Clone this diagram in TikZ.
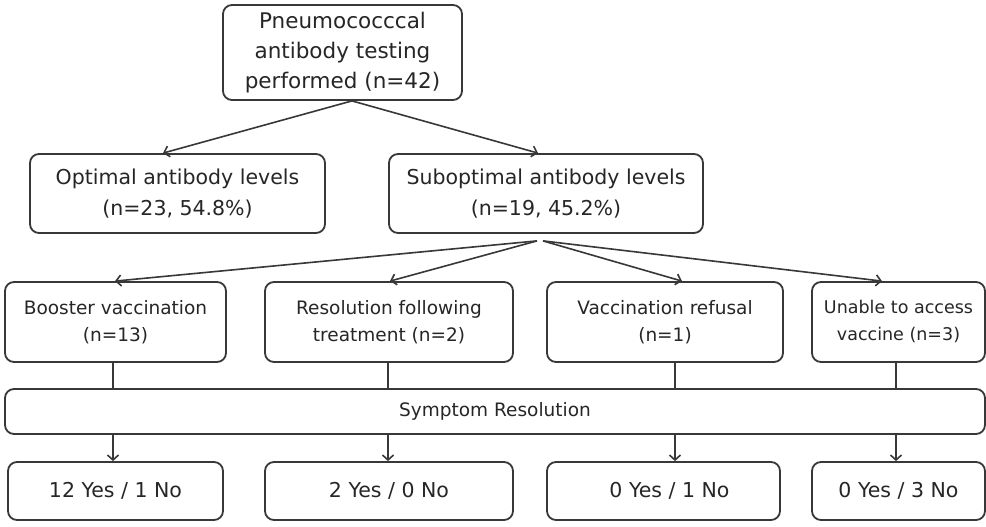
\documentclass[tikz,border=0pt]{standalone}
\usepackage{fontspec}
\setmainfont{DejaVu Sans}
\usetikzlibrary{arrows.meta,calc}
\definecolor{ln}{HTML}{383838}
\definecolor{tx}{HTML}{262626}
\tikzset{
  box/.style={draw=ln, line width=1.8pt, rounded corners=9pt, fill=white, text=tx, align=center, inner sep=0pt},
  arr/.style={draw=ln, line width=1.6pt, -{Straight Barb[length=5pt,width=11pt,line width=1.6pt]}},
  ln/.style={draw=ln, line width=1.6pt},
  f22/.style={font=\fontsize{21.5}{30}\selectfont},
  f21/.style={font=\fontsize{20.5}{31}\selectfont},
  f19/.style={font=\fontsize{18.5}{27}\selectfont},
  f18/.style={font=\fontsize{17.5}{27}\selectfont},
}
\begin{document}
\begin{tikzpicture}[x=1pt,y=-1pt]
\useasboundingbox (0,0) rectangle (986,527);
\fill[white] (0,0) rectangle (986,527);

\node[box,f22,minimum width=239pt,minimum height=95pt] (top) at (342.5,52.5) {Pneumococccal\\antibody testing\\performed (n=42)};
\node[box,f21,minimum width=295pt,minimum height=79pt] (opt) at (177.5,193.5) {Optimal antibody levels\\(n=23, 54.8\%)};
\node[box,f21,minimum width=314pt,minimum height=79pt] (sub) at (546,193.5) {Suboptimal antibody levels\\(n=19, 45.2\%)};

\node[box,f19,minimum width=221pt,minimum height=80pt] (b1) at (115.5,322) {Booster vaccination\\(n=13)};
\node[box,f19,minimum width=248pt,minimum height=80pt] (b2) at (389,322) {Resolution following\\treatment (n=2)};
\node[box,f19,minimum width=236pt,minimum height=80pt] (b3) at (665,322) {Vaccination refusal\\(n=1)};
\node[box,f18,minimum width=173pt,minimum height=80pt] (b4) at (898.5,322) {Unable to access\\vaccine (n=3)};

\node[box,f19,minimum width=980pt,minimum height=45pt] (sym) at (495,411.5) {Symptom Resolution};

\node[box,f21,minimum width=215pt,minimum height=58pt] (r1) at (115.5,491) {12 Yes / 1 No};
\node[box,f21,minimum width=248pt,minimum height=58pt] (r2) at (389,491) {2 Yes / 0 No};
\node[box,f21,minimum width=233pt,minimum height=58pt] (r3) at (663.5,491) {\hspace*{12pt}0 Yes / 1 No};
\node[box,f21,minimum width=173pt,minimum height=58pt] (r4) at (898.5,491) {0 Yes / 3 No};

% top to row 2
\draw[arr] ([xshift=9.5pt]top.south) -- ([xshift=-14.5pt]opt.north);
\draw[arr] ([xshift=9.5pt]top.south) -- ([xshift=-8pt]sub.north);

% suboptimal to row 3
\coordinate (s1) at ($(sub.south)+(-9,7)$);
\coordinate (s2) at ($(sub.south)+(-3,7)$);
\draw[arr] (s1) -- ([xshift=-0.5pt]b1.north);
\draw[arr] (s1) -- ([xshift=1pt]b2.north);
\draw[arr] (s2) -- ([xshift=17pt]b3.north);
\draw[arr] (s2) -- ([xshift=-16.5pt]b4.north);

% row 3 to symptom
\draw[ln] ([xshift=-2.5pt]b1.south) -- ([xshift=-2.5pt]b1.south |- sym.north);
\draw[ln] ([xshift=-1pt]b2.south) -- ([xshift=-1pt]b2.south |- sym.north);
\draw[ln] ([xshift=10pt]b3.south) -- ([xshift=10pt]b3.south |- sym.north);
\draw[ln] ([xshift=-2.5pt]b4.south) -- ([xshift=-2.5pt]b4.south |- sym.north);

% symptom to results
\draw[arr] ([xshift=-2.5pt]b1.south |- sym.south) -- ([xshift=-2.5pt]b1.south |- r1.north);
\draw[arr] ([xshift=-1pt]b2.south |- sym.south) -- ([xshift=-1pt]b2.south |- r2.north);
\draw[arr] ([xshift=10pt]b3.south |- sym.south) -- ([xshift=10pt]b3.south |- r3.north);
\draw[arr] ([xshift=-2.5pt]b4.south |- sym.south) -- ([xshift=-2.5pt]b4.south |- r4.north);
\end{tikzpicture}
\end{document}
